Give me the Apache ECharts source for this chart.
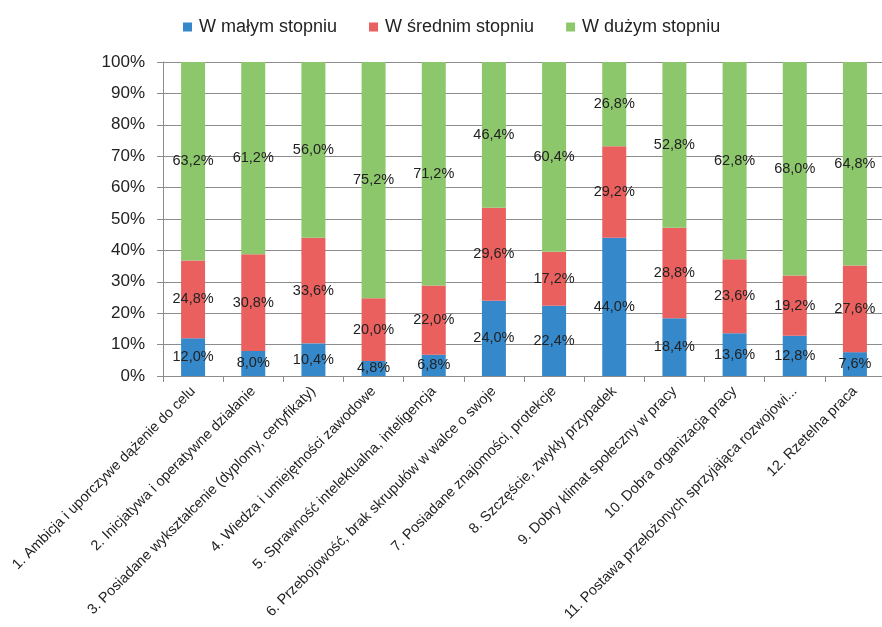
<!DOCTYPE html>
<html lang="pl">
<head>
<meta charset="utf-8">
<title>Czynniki sukcesu</title>
<script src="https://cdn.jsdelivr.net/npm/echarts@6/dist/echarts.min.js"></script>
<style>
  html, body { margin: 0; padding: 0; background: #fff; }
  #chart { width: 882px; height: 627px; }
</style>
</head>
<body>
<div id="chart"></div>
<script>
// kategorie (oś X)
var categories = [
  '1. Ambicja i uporczywe dążenie do celu',
  '2. Inicjatywa i operatywne działanie',
  '3. Posiadane wykształcenie (dyplomy, certyfikaty)',
  '4. Wiedza i umiejętności zawodowe',
  '5. Sprawność intelektualna, inteligencja',
  '6. Przebojowość, brak skrupułów w walce o swoje',
  '7. Posiadane znajomości, protekcje',
  '8. Szczęście, zwykły przypadek',
  '9. Dobry klimat społeczny w pracy',
  '10. Dobra organizacja pracy',
  '11. Postawa przełożonych sprzyjająca rozwojowi...',
  '12. Rzetelna praca'
];
var seriesNames = ['W małym stopniu', 'W średnim stopniu', 'W dużym stopniu'];
// wartości w %
var smallVals  = [12.0, 8.0, 10.4, 4.8, 6.8, 24.0, 22.4, 44.0, 18.4, 13.6, 12.8, 7.6];
var mediumVals = [24.8, 30.8, 33.6, 20.0, 22.0, 29.6, 17.2, 29.2, 28.8, 23.6, 19.2, 27.6];
var largeVals  = [63.2, 61.2, 56.0, 75.2, 71.2, 46.4, 60.4, 26.8, 52.8, 62.8, 68.0, 64.8];

var colors = ['#3589cb', '#e9605e', '#8dc76c'];
var font = '"Liberation Sans", Arial, sans-serif';

function pct(p) {
  return p.value.toFixed(1).replace('.', ',') + '%';
}

function makeSeries(name, data, color) {
  return {
    name: name,
    type: 'bar',
    stack: 'total',
    barWidth: 24,
    data: data,
    itemStyle: { color: color },
    label: {
      show: true,
      position: 'inside',
      formatter: pct,
      color: '#222',
      fontFamily: font,
      fontSize: 14.5
    }
  };
}

var chart = echarts.init(document.getElementById('chart'));
chart.setOption({
  animation: false,
  legend: {
    data: seriesNames,
    left: 178,
    top: 13,
    itemWidth: 9,
    itemHeight: 9,
    itemGap: 32,
    icon: 'rect',
    textStyle: { fontFamily: font, fontSize: 18, color: '#222', padding: [0, 0, 0, 2] }
  },
  grid: { left: 163, top: 62, width: 722, height: 314, outerBoundsMode: 'none' },
  xAxis: {
    type: 'category',
    data: categories,
    axisLine: { lineStyle: { color: '#8c8c8c' } },
    axisTick: { show: true, length: 6, lineStyle: { color: '#8c8c8c' } },
    axisLabel: {
      rotate: 45,
      interval: 0,
      margin: 13,
      fontFamily: font,
      fontSize: 14.4,
      color: '#222'
    }
  },
  yAxis: {
    type: 'value',
    min: 0,
    max: 100,
    interval: 10,
    axisLine: { show: true, lineStyle: { color: '#8c8c8c' } },
    axisTick: { show: true, length: 6, lineStyle: { color: '#8c8c8c' } },
    splitLine: { lineStyle: { color: '#8c8c8c' } },
    axisLabel: {
      formatter: '{value}%',
      margin: 18,
      fontFamily: font,
      fontSize: 17,
      color: '#222'
    }
  },
  series: [
    makeSeries(seriesNames[0], smallVals, colors[0]),
    makeSeries(seriesNames[1], mediumVals, colors[1]),
    makeSeries(seriesNames[2], largeVals, colors[2])
  ]
});
</script>
</body>
</html>
